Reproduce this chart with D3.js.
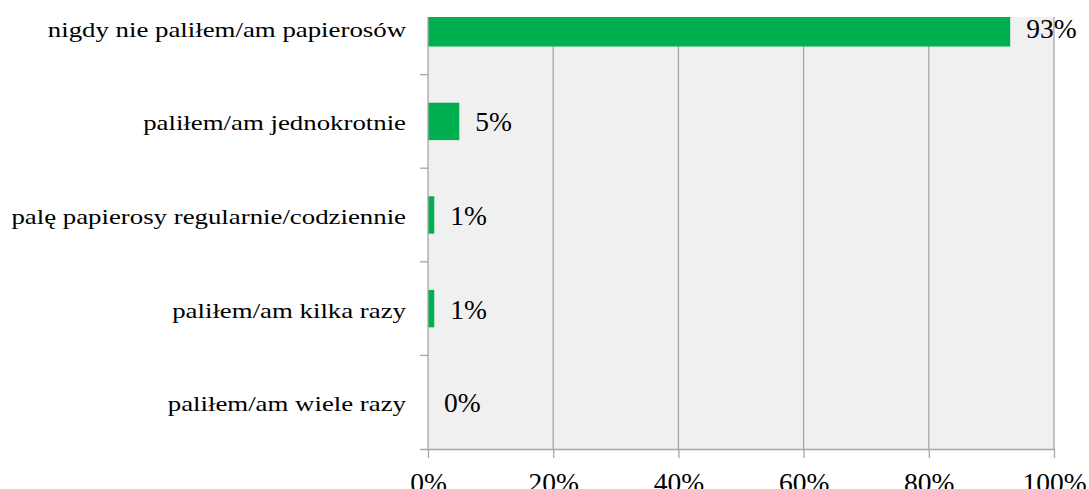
<!DOCTYPE html>
<html>
<head>
<meta charset="utf-8">
<script src="https://cdn.jsdelivr.net/npm/d3@7"></script>
<style>
html,body{margin:0;padding:0;background:#fff;}
svg{display:block;}
</style>
</head>
<body>
<svg id="chart" width="1089" height="489"></svg>
<script>
const categories = [
  "nigdy nie paliłem/am papierosów",
  "paliłem/am jednokrotnie",
  "palę papierosy regularnie/codziennie",
  "paliłem/am kilka razy",
  "paliłem/am wiele razy"
];
const values = [93, 5, 1, 1, 0];
const valueLabels = ["93%", "5%", "1%", "1%", "0%"];
const xTicks = [0, 20, 40, 60, 80, 100];
const xTickLabels = ["0%", "20%", "40%", "60%", "80%", "100%"];

const FONT = "Liberation Serif";
const svg = d3.select("#chart");
const plot = {left: 428, right: 1054, top: 17, bottom: 449};

const x = d3.scaleLinear().domain([0, 100]).range([plot.left, plot.right]);
const y = d3.scaleBand().domain(categories).range([-19, plot.bottom])
  .paddingInner(0.6).paddingOuter(0.3);

// plot background
svg.append("rect")
  .attr("x", plot.left).attr("y", plot.top)
  .attr("width", plot.right - plot.left).attr("height", plot.bottom - plot.top)
  .attr("fill", "#f0f0f0");

svg.append("defs").append("clipPath").attr("id", "clip")
  .append("rect")
  .attr("x", plot.left).attr("y", plot.top)
  .attr("width", plot.right - plot.left + 1).attr("height", plot.bottom - plot.top);

// gridlines
svg.append("g").selectAll("line")
  .data(xTicks.filter(d => d > 0))
  .join("line")
  .attr("x1", d => x(d)).attr("x2", d => x(d))
  .attr("y1", plot.top).attr("y2", plot.bottom)
  .attr("stroke", "#a6a6a6").attr("stroke-width", 1.3);

// bars
svg.append("g").attr("clip-path", "url(#clip)")
  .selectAll("rect")
  .data(categories)
  .join("rect")
  .attr("x", x(0))
  .attr("y", d => y(d))
  .attr("width", (d, i) => x(values[i]) - x(0))
  .attr("height", y.bandwidth())
  .attr("fill", "#00b050");

// x axis
const xAxis = d3.axisBottom(x)
  .tickValues(xTicks)
  .tickFormat((d, i) => xTickLabels[i])
  .tickSizeInner(9).tickSizeOuter(0).tickPadding(14);
const gx = svg.append("g").attr("transform", `translate(0,${plot.bottom})`).call(xAxis);
gx.attr("font-family", FONT).attr("font-size", 27.5);
gx.select(".domain").attr("stroke", "#a6a6a6").attr("stroke-width", 1.3)
  .attr("d", `M${plot.left - 8},0.5H${plot.right}`);
gx.selectAll(".tick line").attr("stroke", "#a6a6a6").attr("stroke-width", 1.3);
gx.selectAll(".tick text")
  .attr("font-family", FONT).attr("font-size", 27.5).attr("fill", "#000");

// y axis (line + ticks between categories)
const gy = svg.append("g");
gy.append("line")
  .attr("x1", plot.left).attr("x2", plot.left)
  .attr("y1", plot.top).attr("y2", plot.bottom)
  .attr("stroke", "#a6a6a6").attr("stroke-width", 1.3);
gy.selectAll("line.tk")
  .data(categories.slice(1))
  .join("line").attr("class", "tk")
  .attr("x1", plot.left - 8).attr("x2", plot.left)
  .attr("y1", d => y(d) - y.step() * y.paddingInner() / 2)
  .attr("y2", d => y(d) - y.step() * y.paddingInner() / 2)
  .attr("stroke", "#a6a6a6").attr("stroke-width", 1.3);

// category labels
svg.append("g").selectAll("text")
  .data(categories)
  .join("text")
  .attr("transform", d => `translate(406,${y(d) + y.bandwidth() / 2 + 9}) scale(1.22,1)`)
  .attr("text-anchor", "end")
  .attr("font-family", FONT).attr("font-size", 22).attr("fill", "#000")
  .text(d => d);

// value labels
svg.append("g").selectAll("text")
  .data(categories)
  .join("text")
  .attr("x", (d, i) => x(values[i]) + 16)
  .attr("y", d => y(d) + y.bandwidth() / 2 + 10)
  .attr("font-family", FONT).attr("font-size", 27.5).attr("fill", "#000")
  .text((d, i) => valueLabels[i]);

// force font resolution before the snapshot
svg.selectAll("text").each(function () { this.getComputedTextLength(); });
</script>
</body>
</html>
